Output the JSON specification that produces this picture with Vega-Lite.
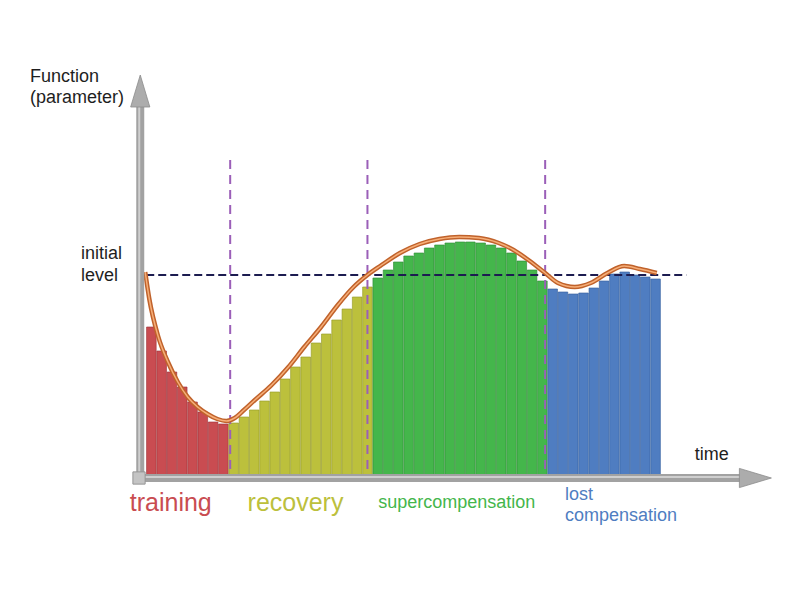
{
  "$schema": "https://vega.github.io/schema/vega-lite/v6.json",
  "width": 800,
  "height": 600,
  "padding": 0,
  "autosize": {"type": "none"},
  "background": "white",
  "config": {"view": {"stroke": null}, "font": "Liberation Sans"},
  "datasets": {
    "bars": [
      {"t": 0.5, "value": 74, "phase": "training"},
      {"t": 1.5, "value": 62, "phase": "training"},
      {"t": 2.5, "value": 51.5, "phase": "training"},
      {"t": 3.5, "value": 44, "phase": "training"},
      {"t": 4.5, "value": 36.5, "phase": "training"},
      {"t": 5.5, "value": 31.5, "phase": "training"},
      {"t": 6.5, "value": 26.5, "phase": "training"},
      {"t": 7.5, "value": 25.5, "phase": "training"},
      {"t": 8.5, "value": 26, "phase": "recovery"},
      {"t": 9.5, "value": 29, "phase": "recovery"},
      {"t": 10.5, "value": 32.5, "phase": "recovery"},
      {"t": 11.5, "value": 37, "phase": "recovery"},
      {"t": 12.5, "value": 41.5, "phase": "recovery"},
      {"t": 13.5, "value": 48, "phase": "recovery"},
      {"t": 14.5, "value": 54, "phase": "recovery"},
      {"t": 15.5, "value": 59, "phase": "recovery"},
      {"t": 16.5, "value": 66, "phase": "recovery"},
      {"t": 17.5, "value": 70.5, "phase": "recovery"},
      {"t": 18.5, "value": 77.5, "phase": "recovery"},
      {"t": 19.5, "value": 83, "phase": "recovery"},
      {"t": 20.5, "value": 89, "phase": "recovery"},
      {"t": 21.5, "value": 94, "phase": "recovery"},
      {"t": 22.5, "value": 98.5, "phase": "supercompensation"},
      {"t": 23.5, "value": 102.5, "phase": "supercompensation"},
      {"t": 24.5, "value": 106.5, "phase": "supercompensation"},
      {"t": 25.5, "value": 109.5, "phase": "supercompensation"},
      {"t": 26.5, "value": 111, "phase": "supercompensation"},
      {"t": 27.5, "value": 113.5, "phase": "supercompensation"},
      {"t": 28.5, "value": 115, "phase": "supercompensation"},
      {"t": 29.5, "value": 116, "phase": "supercompensation"},
      {"t": 30.5, "value": 116.5, "phase": "supercompensation"},
      {"t": 31.5, "value": 116.5, "phase": "supercompensation"},
      {"t": 32.5, "value": 116, "phase": "supercompensation"},
      {"t": 33.5, "value": 115, "phase": "supercompensation"},
      {"t": 34.5, "value": 113.5, "phase": "supercompensation"},
      {"t": 35.5, "value": 111, "phase": "supercompensation"},
      {"t": 36.5, "value": 107, "phase": "supercompensation"},
      {"t": 37.5, "value": 102.5, "phase": "supercompensation"},
      {"t": 38.5, "value": 97, "phase": "supercompensation"},
      {"t": 39.5, "value": 93, "phase": "lost compensation"},
      {"t": 40.5, "value": 91.5, "phase": "lost compensation"},
      {"t": 41.5, "value": 90.5, "phase": "lost compensation"},
      {"t": 42.5, "value": 91, "phase": "lost compensation"},
      {"t": 43.5, "value": 93.5, "phase": "lost compensation"},
      {"t": 44.5, "value": 97, "phase": "lost compensation"},
      {"t": 45.5, "value": 100.5, "phase": "lost compensation"},
      {"t": 46.5, "value": 101.5, "phase": "lost compensation"},
      {"t": 47.5, "value": 100, "phase": "lost compensation"},
      {"t": 48.5, "value": 99, "phase": "lost compensation"},
      {"t": 49.5, "value": 98, "phase": "lost compensation"}
    ],
    "curve": [
      {"t": -0.1, "v": 101.5},
      {"t": 0.3, "v": 88},
      {"t": 1.15, "v": 69.5},
      {"t": 2.11, "v": 56.5},
      {"t": 3.07, "v": 46.5},
      {"t": 4.03, "v": 39},
      {"t": 4.99, "v": 34},
      {"t": 5.95, "v": 30.5},
      {"t": 6.91, "v": 28},
      {"t": 7.8, "v": 27},
      {"t": 8.6, "v": 28.5},
      {"t": 9.5, "v": 32.5},
      {"t": 10.56, "v": 37.5},
      {"t": 12.19, "v": 45},
      {"t": 13.82, "v": 54},
      {"t": 15.36, "v": 64},
      {"t": 16.99, "v": 74},
      {"t": 18.62, "v": 85},
      {"t": 20.15, "v": 94},
      {"t": 21.5, "v": 100},
      {"t": 22.74, "v": 104.5},
      {"t": 24.66, "v": 111},
      {"t": 26.58, "v": 115.5},
      {"t": 28.5, "v": 118},
      {"t": 30.42, "v": 119},
      {"t": 32.34, "v": 118.5},
      {"t": 34.26, "v": 116},
      {"t": 35.7, "v": 112.5},
      {"t": 37.14, "v": 107.5},
      {"t": 38.77, "v": 101},
      {"t": 40.02, "v": 96},
      {"t": 41.65, "v": 94},
      {"t": 43.19, "v": 96},
      {"t": 44.82, "v": 101},
      {"t": 46.45, "v": 104.5},
      {"t": 47.98, "v": 103},
      {"t": 49.62, "v": 101}
    ],
    "level": [{"t0": 0, "t1": 52.5, "v": 100}],
    "phaseLines": [{"t": 8.16}, {"t": 21.5}, {"t": 38.77}],
    "labels": [
      {"text": "Function", "t": -11.3, "v": 199, "kind": "axis"},
      {"text": "(parameter)", "t": -11.3, "v": 188.5, "kind": "axis"},
      {"text": "initial", "t": -6.35, "v": 110.5, "kind": "axis"},
      {"text": "level", "t": -6.35, "v": 99.5, "kind": "axis"},
      {"text": "time", "t": 53.3, "v": 10, "kind": "axis"}
    ],
    "phaseLabels": [
      {"text": "training", "t": -1.6, "v": -14, "phase": "training", "kind": "big"},
      {"text": "recovery", "t": 9.85, "v": -14, "phase": "recovery", "kind": "big"},
      {"text": "supercompensation", "t": 22.55, "v": -14, "phase": "supercompensation", "kind": "small"},
      {"text": "lost", "t": 40.7, "v": -10, "phase": "lost compensation", "kind": "small"},
      {"text": "compensation", "t": 40.7, "v": -20.5, "phase": "lost compensation", "kind": "small"}
    ]
  },
  "layer": [
    {
      "data": {"name": "bars"},
      "mark": {"type": "bar", "size": 9.6, "strokeWidth": 0.8, "strokeOpacity": 0.8},
      "encoding": {
        "x": {"field": "t", "type": "quantitative", "scale": {"domain": [-13.724, 63.05], "nice": false, "zero": false}, "axis": null},
        "y": {"field": "value", "type": "quantitative", "scale": {"domain": [-62.5, 237.5], "nice": false, "zero": false}, "axis": null},
        "y2": {"datum": 0},
        "color": {"field": "phase", "type": "nominal", "legend": null,
          "scale": {"domain": ["training", "recovery", "supercompensation", "lost compensation"], "range": ["#c94c51", "#bcc03c", "#44b64b", "#4f7dc1"]}},
        "stroke": {"field": "phase", "type": "nominal", "legend": null,
          "scale": {"domain": ["training", "recovery", "supercompensation", "lost compensation"], "range": ["#9e3338", "#969a28", "#2f8c36", "#36609e"]}}
      }
    },
    {
      "data": {"name": "level"},
      "mark": {"type": "rule", "color": "#1c1c50", "strokeWidth": 2, "strokeDash": [8, 4]},
      "encoding": {
        "x": {"field": "t0", "type": "quantitative"},
        "x2": {"field": "t1"},
        "y": {"field": "v", "type": "quantitative"}
      }
    },
    {
      "data": {"name": "phaseLines"},
      "mark": {"type": "rule", "color": "#9b5fb8", "strokeWidth": 2, "strokeDash": [9, 6]},
      "encoding": {
        "x": {"field": "t", "type": "quantitative"},
        "y": {"datum": 157.5},
        "y2": {"datum": 0}
      }
    },
    {
      "data": {"name": "curve"},
      "mark": {"type": "line", "color": "#c0622b", "strokeWidth": 4.5, "interpolate": "monotone"},
      "encoding": {
        "x": {"field": "t", "type": "quantitative"},
        "y": {"field": "v", "type": "quantitative"}
      }
    },
    {
      "data": {"name": "curve"},
      "mark": {"type": "line", "color": "#f6ae78", "strokeWidth": 1.5, "interpolate": "monotone"},
      "encoding": {
        "x": {"field": "t", "type": "quantitative"},
        "y": {"field": "v", "type": "quantitative"}
      }
    },
    {
      "data": {"values": [{}]},
      "mark": {"type": "rule", "color": "#a2a2a2", "strokeWidth": 8},
      "encoding": {"x": {"datum": -0.58}, "y": {"datum": -1.5}, "y2": {"datum": 184}}
    },
    {
      "data": {"values": [{}]},
      "mark": {"type": "rule", "color": "#cfcfcf", "strokeWidth": 2, "xOffset": -1},
      "encoding": {"x": {"datum": -0.58}, "y": {"datum": -1.5}, "y2": {"datum": 184}}
    },
    {
      "data": {"values": [{}]},
      "mark": {"type": "rule", "color": "#a2a2a2", "strokeWidth": 8},
      "encoding": {"y": {"datum": -1.5}, "x": {"datum": -1.25}, "x2": {"datum": 58}}
    },
    {
      "data": {"values": [{}]},
      "mark": {"type": "rule", "color": "#cfcfcf", "strokeWidth": 2, "yOffset": -1},
      "encoding": {"y": {"datum": -1.5}, "x": {"datum": -1.25}, "x2": {"datum": 58}}
    },
    {
      "data": {"values": [{}]},
      "mark": {"type": "point", "filled": true, "shape": "M0,-1L0.6,1L-0.6,1Z", "size": 1024, "color": "#acacac", "stroke": "#8c8c8c", "strokeWidth": 0.8, "opacity": 1},
      "encoding": {"x": {"datum": -0.58}, "y": {"datum": 192}}
    },
    {
      "data": {"values": [{}]},
      "mark": {"type": "point", "filled": true, "shape": "M1,0L-1,-0.6L-1,0.6Z", "size": 1024, "color": "#acacac", "stroke": "#8c8c8c", "strokeWidth": 0.8, "opacity": 1},
      "encoding": {"x": {"datum": 59.2}, "y": {"datum": -1.5}}
    },
    {
      "data": {"values": [{}]},
      "mark": {"type": "point", "filled": true, "shape": "square", "size": 150, "color": "#c4c4c4", "stroke": "#959595", "strokeWidth": 1, "opacity": 1},
      "encoding": {"x": {"datum": -0.7}, "y": {"datum": -1.5}}
    },
    {
      "data": {"name": "labels"},
      "mark": {"type": "text", "align": "left", "baseline": "middle", "fontSize": 18, "color": "#1e1e1e"},
      "encoding": {
        "x": {"field": "t", "type": "quantitative"},
        "y": {"field": "v", "type": "quantitative"},
        "text": {"field": "text"}
      }
    },
    {
      "data": {"name": "phaseLabels"},
      "transform": [{"filter": "datum.kind === 'big'"}],
      "mark": {"type": "text", "align": "left", "baseline": "middle", "fontSize": 25},
      "encoding": {
        "x": {"field": "t", "type": "quantitative"},
        "y": {"field": "v", "type": "quantitative"},
        "text": {"field": "text"},
        "color": {"field": "phase", "type": "nominal", "legend": null}
      }
    },
    {
      "data": {"name": "phaseLabels"},
      "transform": [{"filter": "datum.kind === 'small'"}],
      "mark": {"type": "text", "align": "left", "baseline": "middle", "fontSize": 18},
      "encoding": {
        "x": {"field": "t", "type": "quantitative"},
        "y": {"field": "v", "type": "quantitative"},
        "text": {"field": "text"},
        "color": {"field": "phase", "type": "nominal", "legend": null}
      }
    }
  ]
}
